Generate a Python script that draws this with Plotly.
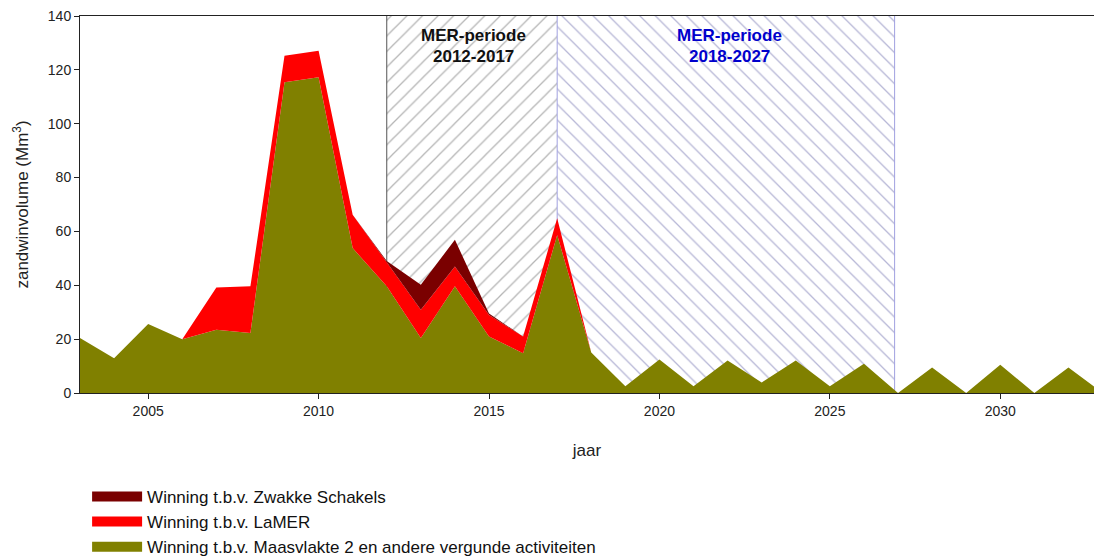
import plotly.graph_objects as go

years = list(range(2003, 2034))
maasvlakte = [20.4, 12.9, 25.6, 20.0, 23.5, 22.3, 115.4, 117.3, 53.8, 39.6, 20.4,
              39.6, 21.0, 14.8, 58.7, 15.0, 2.5, 12.4, 2.5, 12.1, 3.9, 12.1, 2.5,
              10.9, 0.0, 9.5, 0.0, 10.5, 0.0, 9.5, 0.0]
lamer = [0, 0, 0, 0, 15.7, 17.3, 9.8, 9.8, 12.4, 8.9, 10.5, 7.4, 8.0, 6.2, 6.2,
         0, 0, 0, 0, 0, 0, 0, 0, 0, 0, 0, 0, 0, 0, 0, 0]
zwakke = [0, 0, 0, 0, 0, 0, 0, 0, 0, 0.5, 9.3, 9.9, 0.5, 0, 0,
          0, 0, 0, 0, 0, 0, 0, 0, 0, 0, 0, 0, 0, 0, 0, 0]

series_names = ["Winning t.b.v. Maasvlakte 2 en andere vergunde activiteiten",
                "Winning t.b.v. LaMER",
                "Winning t.b.v. Zwakke Schakels"]
series_colors = ["#808000", "#FF0000", "#7A0000"]

period1 = (2012, 2017)
period2 = (2017, 2026.9)
period1_label = ["MER-periode", "2012-2017"]
period2_label = ["MER-periode", "2018-2027"]
y_max = 140
x_range = [2003, 2032.75]

FONT = "Liberation Sans, Arial, sans-serif"

fig = go.Figure()

# hatched period backgrounds
for (a, b), shape, col in [(period1, "/", "#6e6e6e"), (period2, "\\", "#6f6fae")]:
    fig.add_trace(go.Scatter(
        x=[a, b, b, a, a], y=[0, 0, y_max, y_max, 0],
        mode="lines", fill="toself", fillcolor="white",
        fillpattern=dict(shape=shape, fgcolor=col, bgcolor="white", size=11, solidity=0.12),
        line=dict(width=0), showlegend=False, hoverinfo="skip"))

# period boundary lines
for xv, col in [(period1[0], "#555555"), (period2[0], "#a0a0e0"), (period2[1], "#a0a0e0")]:
    fig.add_trace(go.Scatter(x=[xv, xv], y=[0, y_max], mode="lines",
                             line=dict(color=col, width=1), showlegend=False, hoverinfo="skip"))

# stacked areas
for vals, name, col in zip([maasvlakte, lamer, zwakke], series_names, series_colors):
    fig.add_trace(go.Scatter(
        x=years, y=vals, name=name, mode="lines", stackgroup="one",
        fillcolor=col, line=dict(width=0, color=col), legendgroup=name, showlegend=False))

# legend keys (thick swatches)
for name, col in zip(series_names, series_colors):
    fig.add_trace(go.Scatter(x=[None], y=[None], name=name, mode="lines",
                             line=dict(color=col, width=11), legendgroup=name, showlegend=True))

for lbl, xc, col in [(period1_label, sum(period1) / 2 + 0.05, "#111111"),
                     (period2_label, (period2[0] + 2027) / 2 + 0.05, "#0000CC")]:
    fig.add_annotation(x=xc, y=132.6, text="<b>%s</b>" % lbl[0], showarrow=False,
                       font=dict(family=FONT, size=17, color=col))
    fig.add_annotation(x=xc, y=124.9, text="<b>%s</b>" % lbl[1], showarrow=False,
                       font=dict(family=FONT, size=17, color=col))

fig.update_layout(
    width=1094, height=557,
    margin=dict(l=80, r=0, t=16, b=164, autoexpand=False),
    paper_bgcolor="white", plot_bgcolor="white",
    font=dict(family=FONT, color="#222222"),
    showlegend=True,
    legend=dict(orientation="v", x=0.007, y=-0.228, xanchor="left", yanchor="top",
                traceorder="reversed", font=dict(family=FONT, size=17, color="#111111"),
                itemwidth=50, tracegroupgap=0, bgcolor="rgba(0,0,0,0)"),
    xaxis=dict(range=x_range, tickmode="array", tickvals=[2005, 2010, 2015, 2020, 2025, 2030],
               showline=True, linecolor="#222222", linewidth=1, mirror=True, automargin=False,
               ticks="outside", ticklen=5, tickcolor="#222222", showgrid=False, zeroline=False,
               tickfont=dict(family=FONT, size=14, color="#222222"),
               title=dict(text="jaar", font=dict(family=FONT, size=17, color="#222222"), standoff=26)),
    yaxis=dict(range=[0, y_max], tickmode="array", tickvals=[0, 20, 40, 60, 80, 100, 120, 140],
               showline=True, linecolor="#222222", linewidth=1, automargin=False,
               ticks="outside", ticklen=5, tickcolor="#222222", showgrid=False, zeroline=False,
               tickfont=dict(family=FONT, size=14, color="#222222"),
               title=dict(text="zandwinvolume (Mm<sup>3</sup>)",
                          font=dict(family=FONT, size=17, color="#222222"), standoff=14)),
)

fig.write_html("out.html", config={"displayModeBar": False},
               post_script="document.body.style.margin='0px';document.body.style.overflow='hidden';")
